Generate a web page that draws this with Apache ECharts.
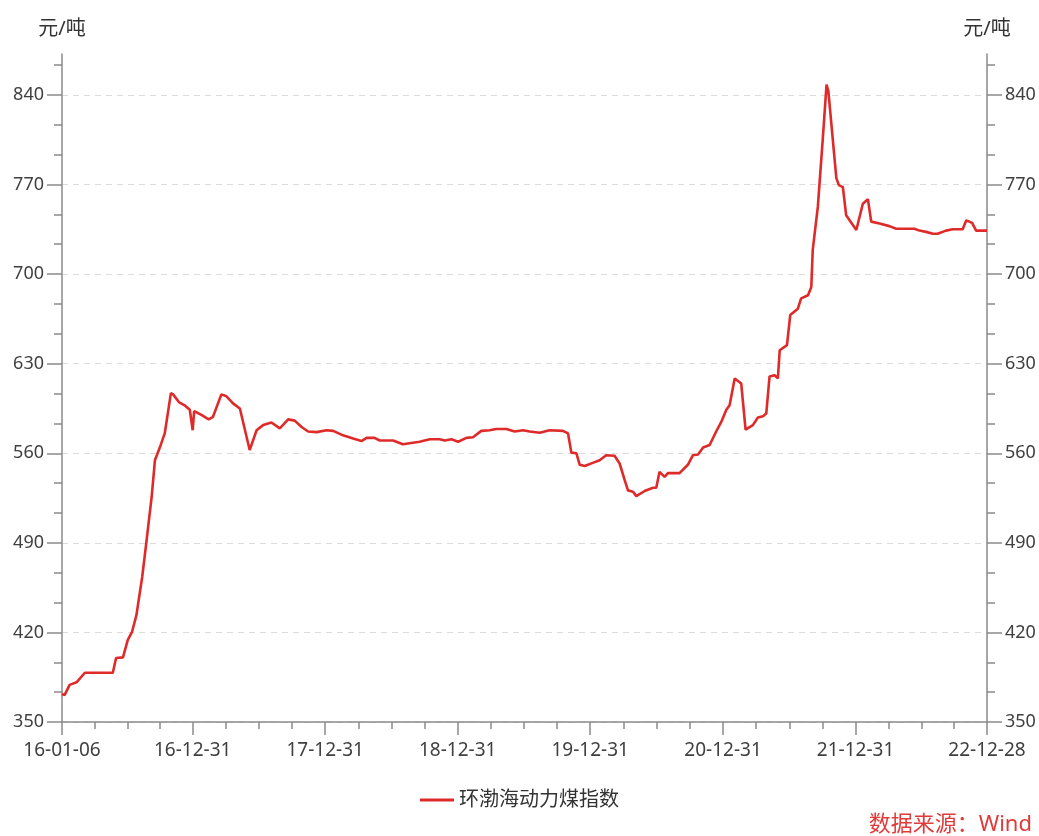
<!DOCTYPE html>
<html>
<head>
<meta charset="utf-8">
<title>环渤海动力煤指数</title>
<script src="https://cdn.jsdelivr.net/npm/echarts@6/dist/echarts.min.js"></script>
<style>
  html, body { margin: 0; padding: 0; background: #fff; }
  #chart { width: 1039px; height: 836px; }
</style>
</head>
<body>
<div id="chart"></div>
<script>
// 环渤海动力煤价格指数（周度，读图估值）
const dates = [
  '2016-01-06', '2016-01-13', '2016-01-27', '2016-02-15', '2016-03-09', '2016-05-25', '2016-06-03', '2016-06-22',
  '2016-07-05', '2016-07-17', '2016-07-29', '2016-08-14', '2016-08-26', '2016-09-09', '2016-09-18', '2016-10-04',
  '2016-10-15', '2016-11-01', '2016-11-07', '2016-11-23', '2016-12-11', '2016-12-23', '2016-12-28', '2016-12-31',
  '2017-01-04', '2017-01-24', '2017-02-13', '2017-02-25', '2017-03-20', '2017-04-03', '2017-04-21', '2017-05-10',
  '2017-06-06', '2017-06-25', '2017-07-13', '2017-08-05', '2017-08-28', '2017-09-20', '2017-10-08', '2017-10-27',
  '2017-11-14', '2017-12-07', '2018-01-04', '2018-01-22', '2018-02-18', '2018-03-18', '2018-04-10', '2018-04-24',
  '2018-05-16', '2018-05-30', '2018-07-06', '2018-08-02', '2018-08-25', '2018-09-17', '2018-10-15', '2018-11-11',
  '2018-11-25', '2018-12-14', '2019-01-01', '2019-01-24', '2019-02-11', '2019-03-06', '2019-03-29', '2019-04-16',
  '2019-05-14', '2019-06-06', '2019-06-29', '2019-07-17', '2019-08-14', '2019-09-10', '2019-10-17', '2019-10-31',
  '2019-11-09', '2019-11-23', '2019-12-02', '2019-12-16', '2020-01-07', '2020-01-26', '2020-02-13', '2020-03-07',
  '2020-03-21', '2020-04-04', '2020-04-13', '2020-04-27', '2020-05-06', '2020-05-29', '2020-06-21', '2020-06-30',
  '2020-07-09', '2020-07-23', '2020-08-01', '2020-09-02', '2020-09-25', '2020-10-09', '2020-10-23', '2020-11-06',
  '2020-11-24', '2020-12-12', '2020-12-26', '2021-01-09', '2021-01-18', '2021-01-23', '2021-02-01', '2021-02-19',
  '2021-03-03', '2021-03-23', '2021-04-06', '2021-04-20', '2021-04-29', '2021-05-08', '2021-05-22', '2021-05-31',
  '2021-06-05', '2021-06-25', '2021-07-04', '2021-07-25', '2021-08-03', '2021-08-22', '2021-08-31', '2021-09-04',
  '2021-09-18', '2021-10-02', '2021-10-12', '2021-10-17', '2021-11-08', '2021-11-15', '2021-11-26', '2021-12-05',
  '2022-01-02', '2022-01-20', '2022-02-03', '2022-02-12', '2022-03-07', '2022-04-03', '2022-04-22', '2022-06-11',
  '2022-06-25', '2022-07-13', '2022-08-01', '2022-08-14', '2022-09-06', '2022-09-25', '2022-10-22', '2022-11-01',
  '2022-11-17', '2022-11-28', '2022-12-28'
];
const values = [
  372, 371, 379, 381, 388.5, 388.5, 400, 400.5,
  414, 420.5, 433.5, 463.5, 492, 526, 554.5, 566.5,
  575.5, 607, 606, 600, 597, 594, 593, 578,
  593, 590, 586.5, 588.5, 606, 604.5, 599, 595,
  562.5, 578, 582, 584, 579.5, 586.5, 585.5, 580.5,
  577, 576.5, 578, 577.5, 574, 571.5, 569.5, 572,
  572, 570, 570, 567, 568, 569, 571, 571,
  570, 571, 569, 572, 572.5, 577.5, 578, 579,
  579, 577, 578, 577, 576, 578, 577.5, 575.5,
  560.5, 560, 551, 550, 552.5, 554.5, 558.5, 558,
  552, 539, 531, 530, 526.5, 530.5, 533, 533,
  545.5, 541.5, 544.5, 544.5, 551, 558.5, 559, 564.5,
  566.5, 577, 584.5, 594, 597.5, 596.5, 618.5, 614.5,
  578.5, 582, 588, 589, 591, 620, 621, 618.5,
  640.5, 644.5, 668, 673, 681, 683.5, 690, 719,
  752.5, 807, 848, 843, 775, 769.5, 768, 746,
  734.5, 755, 758.5, 741, 739.5, 737.5, 735.5, 735.5,
  734, 733, 731.5, 731.5, 734, 735, 735, 742,
  740, 734, 734
];
const xLabelDates = ['2016-01-06', '2016-12-31', '2017-12-31', '2018-12-31', '2019-12-31', '2020-12-31', '2021-12-31', '2022-12-28'];
const yTicks = [350, 420, 490, 560, 630, 700, 770, 840];
const seriesName = '环渤海动力煤指数';

const fontFamily = '"Noto Sans", "Noto Sans CJK SC", sans-serif';
const axisColor = '#8a8a8a';
const labelColor = '#404040';
const yMin = 350;
const yMax = 872;

// 日期转时间戳（UTC），x轴用数值轴画
const toTime = s => Date.UTC(+s.slice(0, 4), +s.slice(5, 7) - 1, +s.slice(8, 10));
const xTicks = xLabelDates.map(toTime);
const xMin = xTicks[0];
const xMax = xTicks[xTicks.length - 1];

// 次刻度：x轴每段四等分，y轴每段三等分
const xMinor = [];
for (let i = 0; i < xTicks.length - 1; i++) {
  const a = xTicks[i];
  const b = xTicks[i + 1];
  for (let k = 1; k < 4; k++) xMinor.push(a + (b - a) * k / 4);
}
const yMinor = [];
for (let v = yMin; v < yMax; v += 70) {
  for (let k = 1; k < 3; k++) {
    if (v + 70 * k / 3 < yMax) yMinor.push(v + 70 * k / 3);
  }
}

function pad(n) { return n < 10 ? '0' + n : '' + n; }
function fmtDate(v) {
  const d = new Date(v);
  return pad(d.getUTCFullYear() % 100) + '-' + pad(d.getUTCMonth() + 1) + '-' + pad(d.getUTCDate());
}

function yMajorAxis(pos) {
  return {
    type: 'value',
    position: pos,
    min: yMin,
    max: yMax,
    name: '元/吨',
    nameLocation: 'end',
    nameGap: 15,
    nameTextStyle: { color: '#333', fontSize: 20, fontFamily: fontFamily },
    axisLine: { show: true, onZero: false, lineStyle: { color: axisColor, width: 1.5 } },
    axisTick: { show: true, inside: false, length: 15, customValues: yTicks, lineStyle: { color: axisColor, width: 1.5 } },
    axisLabel: { show: true, customValues: yTicks, margin: 18, fontSize: 18, color: labelColor, fontFamily: fontFamily },
    splitLine: { show: pos === 'left', lineStyle: { color: '#dcdcdc', type: [6, 5], width: 1 } }
  };
}
function yMinorAxis(pos) {
  return {
    type: 'value',
    position: pos,
    min: yMin,
    max: yMax,
    axisLine: { show: false, onZero: false },
    axisTick: { show: true, inside: false, length: 8, customValues: yMinor, lineStyle: { color: axisColor, width: 1.5 } },
    axisLabel: { show: false },
    splitLine: { show: false }
  };
}

const chart = echarts.init(document.getElementById('chart'));
const option = {
  animation: false,
  backgroundColor: '#fff',
  textStyle: { fontFamily: fontFamily },
  title: {
    text: '数据来源：Wind',
    right: 2,
    top: 809,
    textStyle: { color: '#e03a3a', fontSize: 22, fontWeight: 'normal', fontFamily: fontFamily }
  },
  legend: {
    top: 785,
    left: 'center',
    icon: 'rect',
    itemWidth: 34,
    itemHeight: 3,
    textStyle: { color: '#333', fontSize: 20, fontFamily: fontFamily },
    data: [seriesName]
  },
  grid: { left: 62, right: 52, top: 54, bottom: 114, containLabel: false },
  xAxis: [
    {
      type: 'value',
      position: 'bottom',
      min: xMin,
      max: xMax,
      axisLine: { show: true, onZero: false, lineStyle: { color: axisColor, width: 1.5 } },
      axisTick: { show: true, inside: false, length: 13, customValues: xTicks, lineStyle: { color: axisColor, width: 1.5 } },
      axisLabel: {
        show: true,
        customValues: xTicks,
        formatter: fmtDate,
        margin: 19,
        fontSize: 19,
        color: labelColor,
        fontFamily: fontFamily
      },
      splitLine: { show: false }
    },
    {
      type: 'value',
      position: 'bottom',
      min: xMin,
      max: xMax,
      axisLine: { show: false, onZero: false },
      axisTick: { show: true, inside: false, length: 7, customValues: xMinor, lineStyle: { color: axisColor, width: 1.5 } },
      axisLabel: { show: false },
      splitLine: { show: false }
    }
  ],
  yAxis: [yMajorAxis('left'), yMinorAxis('left'), yMajorAxis('right'), yMinorAxis('right')],
  series: [
    {
      name: seriesName,
      type: 'line',
      xAxisIndex: 0,
      yAxisIndex: 0,
      showSymbol: false,
      symbol: 'none',
      color: '#df2a2a',
      lineStyle: { color: '#df2a2a', width: 2.6 },
      data: dates.map((d, i) => [toTime(d), values[i]])
    }
  ]
};
chart.setOption(option);
</script>
</body>
</html>
